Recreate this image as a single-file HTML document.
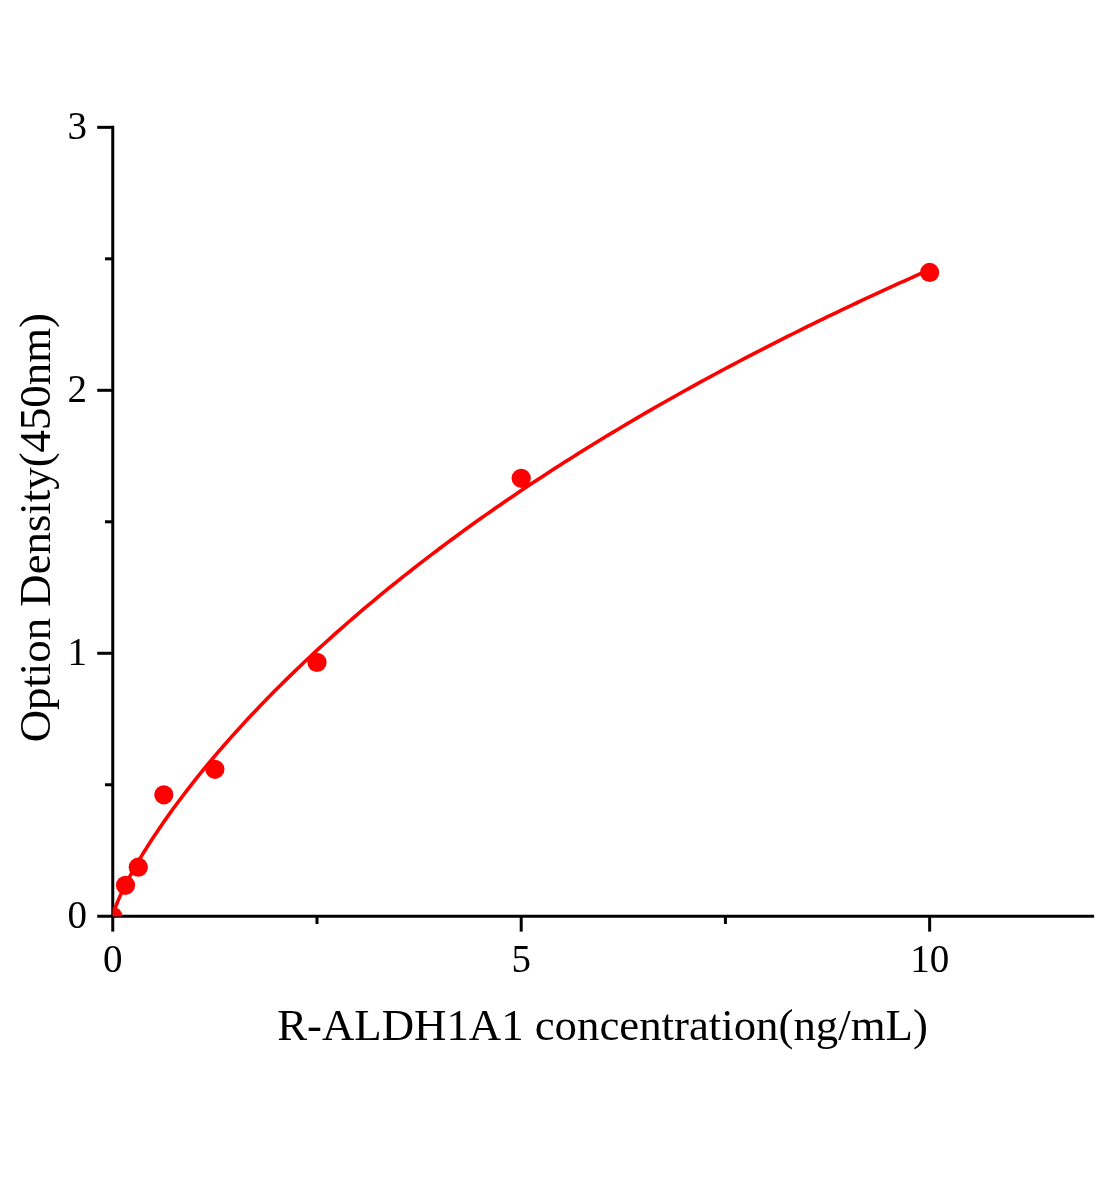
<!DOCTYPE html>
<html lang="en">
<head>
<meta charset="utf-8">
<title>R-ALDH1A1 standard curve</title>
<style>
html,body{margin:0;padding:0;background:#fff;}
body{width:1104px;height:1200px;overflow:hidden;}
svg{display:block;}
text{font-family:"Liberation Serif",serif;fill:#000;}
</style>
</head>
<body>
<svg width="1104" height="1200" viewBox="0 0 1104 1200">
<rect width="1104" height="1200" fill="#fff"/>
<defs><clipPath id="plot"><rect x="112.75" y="100" width="1000" height="816.25"/></clipPath></defs>
<g stroke="#000" stroke-width="3.0" fill="none">
<line x1="112.75" y1="125.84" x2="112.75" y2="917.75"/>
<line x1="111.25" y1="916.25" x2="1094.1" y2="916.25"/>
<line x1="97.2" y1="916.25" x2="112.75" y2="916.25"/>
<line x1="97.2" y1="653.28" x2="112.75" y2="653.28"/>
<line x1="97.2" y1="390.31" x2="112.75" y2="390.31"/>
<line x1="97.2" y1="127.34" x2="112.75" y2="127.34"/>
<line x1="105" y1="784.76" x2="112.75" y2="784.76"/>
<line x1="105" y1="521.79" x2="112.75" y2="521.79"/>
<line x1="105" y1="258.82" x2="112.75" y2="258.82"/>
<line x1="112.75" y1="916.25" x2="112.75" y2="931.6"/>
<line x1="521.20" y1="916.25" x2="521.20" y2="931.6"/>
<line x1="929.65" y1="916.25" x2="929.65" y2="931.6"/>
<line x1="316.98" y1="916.25" x2="316.98" y2="924"/>
<line x1="725.42" y1="916.25" x2="725.42" y2="924"/>
</g>
<g clip-path="url(#plot)">
<path d="M112.75,916.25 L113.80,912.07 L114.84,908.92 L115.89,906.06 L116.94,903.39 L117.99,900.85 L119.03,898.41 L120.08,896.05 L121.13,893.76 L122.18,891.53 L123.22,889.34 L124.27,887.21 L125.32,885.11 L126.36,883.05 L127.41,881.02 L128.46,879.02 L129.51,877.05 L130.55,875.11 L131.60,873.19 L132.65,871.30 L133.70,869.43 L134.74,867.58 L135.79,865.75 L136.84,863.93 L137.89,862.14 L138.93,860.36 L139.98,858.60 L141.03,856.86 L142.07,855.12 L143.12,853.41 L144.17,851.71 L145.22,850.02 L146.26,848.34 L147.31,846.68 L148.36,845.03 L149.41,843.39 L150.45,841.76 L151.50,840.14 L152.55,838.54 L153.59,836.94 L158.48,829.64 L163.36,822.53 L168.24,815.59 L173.12,808.82 L178.00,802.20 L182.88,795.71 L187.76,789.35 L192.64,783.10 L197.52,776.97 L202.40,770.94 L207.28,765.00 L212.17,759.16 L217.05,753.41 L221.93,747.75 L226.81,742.16 L231.69,736.65 L236.57,731.22 L241.45,725.85 L246.33,720.56 L251.21,715.33 L256.09,710.16 L260.97,705.05 L265.85,700.01 L270.74,695.02 L275.62,690.08 L280.50,685.20 L285.38,680.38 L290.26,675.60 L295.14,670.87 L300.02,666.19 L304.90,661.56 L309.78,656.97 L314.66,652.42 L319.54,647.92 L324.42,643.47 L329.31,639.05 L334.19,634.67 L339.07,630.34 L343.95,626.04 L348.83,621.77 L353.71,617.55 L358.59,613.36 L363.47,609.21 L368.35,605.09 L373.23,601.01 L378.11,596.95 L382.99,592.94 L387.88,588.95 L392.76,584.99 L397.64,581.07 L402.52,577.17 L407.40,573.31 L412.28,569.47 L417.16,565.67 L422.04,561.89 L426.92,558.14 L431.80,554.42 L436.68,550.72 L441.57,547.05 L446.45,543.41 L451.33,539.79 L456.21,536.19 L461.09,532.63 L465.97,529.08 L470.85,525.56 L475.73,522.07 L480.61,518.59 L485.49,515.14 L490.37,511.72 L495.25,508.31 L500.14,504.93 L505.02,501.57 L509.90,498.23 L514.78,494.91 L519.66,491.61 L524.54,488.34 L529.42,485.08 L534.30,481.84 L539.18,478.63 L544.06,475.43 L548.94,472.25 L553.82,469.09 L558.71,465.95 L563.59,462.83 L568.47,459.73 L573.35,456.65 L578.23,453.58 L583.11,450.53 L587.99,447.50 L592.87,444.49 L597.75,441.49 L602.63,438.51 L607.51,435.55 L612.39,432.60 L617.28,429.67 L622.16,426.75 L627.04,423.86 L631.92,420.97 L636.80,418.11 L641.68,415.26 L646.56,412.42 L651.44,409.60 L656.32,406.79 L661.20,404.00 L666.08,401.23 L670.96,398.46 L675.85,395.72 L680.73,392.98 L685.61,390.26 L690.49,387.56 L695.37,384.87 L700.25,382.19 L705.13,379.53 L710.01,376.87 L714.89,374.24 L719.77,371.61 L724.65,369.00 L729.54,366.40 L734.42,363.82 L739.30,361.24 L744.18,358.68 L749.06,356.14 L753.94,353.60 L758.82,351.08 L763.70,348.56 L768.58,346.06 L773.46,343.58 L778.34,341.10 L783.22,338.64 L788.11,336.18 L792.99,333.74 L797.87,331.31 L802.75,328.89 L807.63,326.48 L812.51,324.09 L817.39,321.70 L822.27,319.33 L827.15,316.96 L832.03,314.61 L836.91,312.27 L841.79,309.93 L846.68,307.61 L851.56,305.30 L856.44,303.00 L861.32,300.71 L866.20,298.42 L871.08,296.15 L875.96,293.89 L880.84,291.64 L885.72,289.40 L890.60,287.16 L895.48,284.94 L900.36,282.73 L905.25,280.52 L910.13,278.33 L915.01,276.14 L919.89,273.97 L924.77,271.80 L929.65,269.64" fill="none" stroke="#f00" stroke-width="3.6" stroke-linejoin="round"/>
<g fill="#f00">
<circle cx="112.75" cy="916.25" r="9.6"/>
<circle cx="125.51" cy="885.30" r="9.6"/>
<circle cx="138.28" cy="867.20" r="9.6"/>
<circle cx="163.81" cy="794.80" r="9.6"/>
<circle cx="214.86" cy="769.30" r="9.6"/>
<circle cx="316.98" cy="662.40" r="9.6"/>
<circle cx="521.20" cy="478.30" r="9.6"/>
<circle cx="929.65" cy="272.42" r="9.6"/>
</g>
</g>
<g font-size="39">
<text x="86.9" y="927.55" text-anchor="end">0</text>
<text x="86.9" y="664.58" text-anchor="end">1</text>
<text x="86.9" y="401.61" text-anchor="end">2</text>
<text x="86.9" y="138.64" text-anchor="end">3</text>
<text x="112.75" y="971.6" text-anchor="middle">0</text>
<text x="521.20" y="971.6" text-anchor="middle">5</text>
<text x="929.65" y="971.6" text-anchor="middle">10</text>
</g>
<text id="xt" x="602.5" y="1040" font-size="44.8" text-anchor="middle">R-ALDH1A1 concentration(ng/mL)</text>
<text id="yt" transform="translate(50.4,527.7) rotate(-90)" font-size="44.8" text-anchor="middle">Option Density(450nm)</text>
</svg>
</body>
</html>
